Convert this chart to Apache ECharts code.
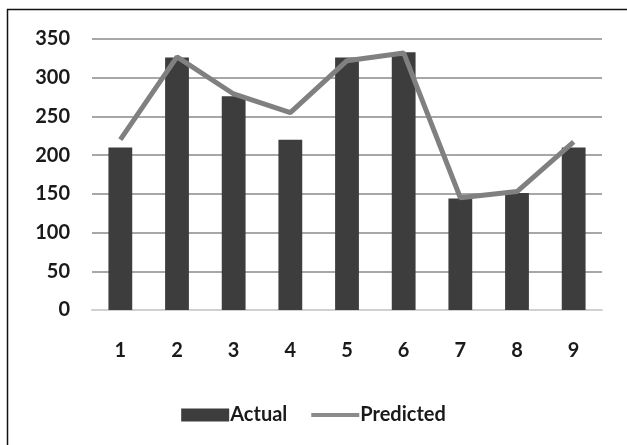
<!DOCTYPE html>
<html>
<head>
<meta charset="utf-8">
<script src="https://cdn.jsdelivr.net/npm/echarts@6/dist/echarts.min.js"></script>
<style>
  html, body { margin: 0; padding: 0; background: #fff; }
  #chart { width: 627px; height: 445px; }
</style>
</head>
<body>
<div id="chart"></div>
<script>
// Categories and series values
const categories = ['1', '2', '3', '4', '5', '6', '7', '8', '9'];
const actual = [210, 326, 276, 220, 326, 333, 144, 151, 210];
const predicted = [220, 327, 279, 255, 322, 332, 145, 153, 217];
const yTicks = [0, 50, 100, 150, 200, 250, 300, 350];

const FONT = 'Lato, "Open Sans", sans-serif';
const chart = echarts.init(document.getElementById('chart'), null, { renderer: 'canvas' });

chart.setOption({
  animation: false,
  backgroundColor: '#ffffff',
  grid: { left: 92, right: 25, top: 39, bottom: 135, containLabel: false },
  xAxis: {
    type: 'category',
    data: categories,
    axisLine: { show: true, lineStyle: { color: '#d0d0d0', width: 2 } },
    axisTick: { show: false },
    axisLabel: { color: '#1a1a1a', fontFamily: FONT, fontSize: 20, fontWeight: 'bold', margin: 31 }
  },
  yAxis: {
    type: 'value',
    min: yTicks[0],
    max: yTicks[yTicks.length - 1],
    interval: 50,
    axisLine: { show: false },
    axisTick: { show: false },
    axisLabel: { color: '#1a1a1a', fontFamily: FONT, fontSize: 20, fontWeight: 'bold', margin: 22 },
    splitLine: { lineStyle: { color: '#8a8a8a', width: 1.5 } }
  },
  legend: {
    bottom: 15,
    left: 'center',
    itemGap: 24,
    itemWidth: 48,
    itemHeight: 13,
    textStyle: { color: '#1a1a1a', fontFamily: FONT, fontSize: 20, fontWeight: 'bold', padding: [0, 0, 0, -4] },
    data: [
      { name: 'Actual', icon: 'rect' },
      // thin bar centred in a 13px-tall box so it reads as a line
      { name: 'Predicted', icon: 'path://M0,0M0,4.5h48v4h-48zM48,13' }
    ]
  },
  series: [
    {
      name: 'Actual',
      type: 'bar',
      data: actual,
      barWidth: '42%',
      itemStyle: { color: '#3d3d3d' }
    },
    {
      name: 'Predicted',
      type: 'line',
      data: predicted,
      symbol: 'none',
      lineStyle: { color: '#808080', width: 5 },
      itemStyle: { color: '#8a8a8a' }
    }
  ],
  graphic: [
    { type: 'line', shape: { x1: 7, y1: 9.5, x2: 627, y2: 9.5 }, style: { stroke: '#111', lineWidth: 1.5 } },
    { type: 'line', shape: { x1: 7.5, y1: 9, x2: 7.5, y2: 445 }, style: { stroke: '#111', lineWidth: 1.5 } }
  ]
});
</script>
</body>
</html>
